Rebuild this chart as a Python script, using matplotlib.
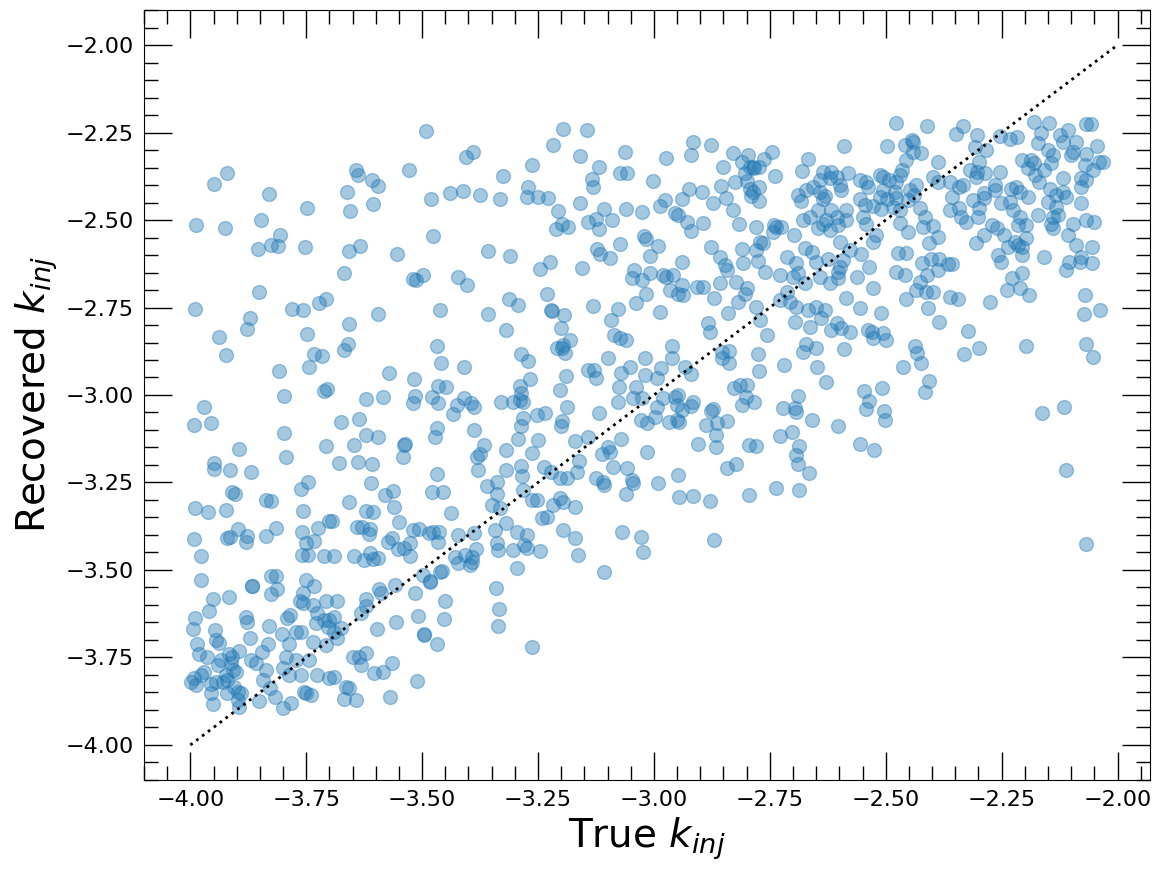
import numpy as np
import matplotlib
matplotlib.use("Agg")
import matplotlib.pyplot as plt
from matplotlib.ticker import MultipleLocator

# (true k_inj, recovered k_inj) pairs
upper_left = [
    (-3.920, -2.366), (-3.948, -2.397), (-3.830, -2.426), (-3.748, -2.466), (-3.987, -2.514),
    (-3.925, -2.523), (-3.847, -2.500), (-3.806, -2.543), (-3.825, -2.571), (-3.810, -2.574),
    (-3.853, -2.583), (-3.752, -2.577), (-3.642, -2.357), (-3.638, -2.371), (-3.608, -2.386),
    (-3.595, -2.403), (-3.662, -2.420), (-3.655, -2.474), (-3.606, -2.454), (-3.634, -2.574),
    (-3.657, -2.589), (-3.554, -2.597), (-3.668, -2.651), (-3.851, -2.706), (-3.989, -2.754),
    (-3.871, -2.780), (-3.877, -2.811), (-3.780, -2.754), (-3.756, -2.757), (-3.722, -2.737),
    (-3.707, -2.726), (-3.595, -2.769), (-3.657, -2.797), (-3.938, -2.834), (-3.748, -2.826),
]

upper_mid = [
    (-3.491, -2.246), (-3.405, -2.320), (-3.390, -2.306), (-3.528, -2.357), (-3.481, -2.440),
    (-3.440, -2.423), (-3.412, -2.417), (-3.375, -2.429), (-3.325, -2.374), (-3.332, -2.440),
    (-3.263, -2.343), (-3.272, -2.406), (-3.274, -2.434), (-3.250, -2.434), (-3.228, -2.437),
    (-3.218, -2.286), (-3.196, -2.240), (-3.144, -2.243), (-3.160, -2.317), (-3.063, -2.306),
    (-3.119, -2.349), (-3.134, -2.383), (-3.132, -2.406), (-3.073, -2.366), (-3.058, -2.366),
    (-3.002, -2.389), (-3.207, -2.474), (-3.160, -2.451), (-3.198, -2.511), (-3.185, -2.520),
    (-3.211, -2.526), (-3.142, -2.506), (-3.125, -2.497), (-3.108, -2.469), (-3.091, -2.500),
    (-3.119, -2.526), (-3.060, -2.469), (-3.026, -2.477), (-3.022, -2.546), (-3.017, -2.554),
    (-3.009, -2.603), (-3.476, -2.546), (-3.358, -2.589), (-3.310, -2.603), (-3.224, -2.620),
    (-3.246, -2.640), (-3.155, -2.637), (-3.123, -2.583), (-3.116, -2.597), (-3.095, -2.609),
    (-3.073, -2.569), (-3.043, -2.643), (-3.047, -2.666), (-3.026, -2.671), (-3.009, -2.651),
    (-3.017, -2.711), (-3.039, -2.737), (-3.519, -2.669), (-3.513, -2.671), (-3.498, -2.657),
    (-3.422, -2.663), (-3.403, -2.686), (-3.231, -2.711), (-3.313, -2.726), (-3.293, -2.743),
    (-3.222, -2.757), (-3.220, -2.759), (-3.194, -2.771), (-3.201, -2.809), (-3.132, -2.746),
    (-3.078, -2.754), (-3.093, -2.786), (-3.461, -2.757), (-3.358, -2.769), (-3.319, -2.814),
    (-3.086, -2.829), (-3.060, -2.843),
]

upper_right = [
    (-2.477, -2.222), (-2.915, -2.278), (-2.877, -2.286), (-2.920, -2.315), (-2.973, -2.324),
    (-2.590, -2.289), (-2.497, -2.288), (-2.829, -2.309), (-2.796, -2.315), (-2.745, -2.305),
    (-2.762, -2.326), (-2.811, -2.333), (-2.793, -2.348), (-2.786, -2.349), (-2.784, -2.352),
    (-2.774, -2.348), (-2.852, -2.348), (-2.804, -2.367), (-2.739, -2.374), (-2.826, -2.390),
    (-2.800, -2.388), (-2.856, -2.403), (-2.793, -2.411), (-2.786, -2.419), (-2.774, -2.405),
    (-2.790, -2.431), (-2.773, -2.445), (-2.924, -2.411), (-2.896, -2.420), (-2.940, -2.440),
    (-2.976, -2.443), (-2.987, -2.459), (-2.872, -2.452), (-2.845, -2.438), (-2.829, -2.471),
    (-2.955, -2.481), (-2.948, -2.486), (-2.928, -2.506), (-2.894, -2.508), (-2.919, -2.532),
    (-2.816, -2.512), (-2.779, -2.521), (-2.741, -2.514), (-2.737, -2.521), (-2.725, -2.521),
    (-2.743, -2.533), (-2.698, -2.543), (-2.667, -2.326), (-2.680, -2.360),
    (-2.635, -2.362), (-2.617, -2.362), (-2.606, -2.376), (-2.581, -2.367), (-2.621, -2.381),
    (-2.642, -2.386), (-2.599, -2.400), (-2.556, -2.386), (-2.542, -2.390), (-2.538, -2.405),
    (-2.513, -2.371), (-2.506, -2.376), (-2.493, -2.386), (-2.477, -2.390), (-2.506, -2.414),
    (-2.481, -2.419), (-2.671, -2.414), (-2.689, -2.429), (-2.657, -2.407), (-2.642, -2.419),
    (-2.632, -2.431), (-2.596, -2.414), (-2.635, -2.441), (-2.682, -2.445), (-2.556, -2.441),
    (-2.545, -2.457), (-2.513, -2.435), (-2.497, -2.441), (-2.477, -2.438), (-2.484, -2.462),
    (-2.527, -2.460), (-2.510, -2.469), (-2.679, -2.500), (-2.664, -2.490), (-2.646, -2.471),
    (-2.635, -2.510), (-2.628, -2.500), (-2.617, -2.471), (-2.606, -2.490), (-2.585, -2.471),
    (-2.585, -2.500), (-2.646, -2.524), (-2.621, -2.529), (-2.603, -2.514), (-2.549, -2.490),
    (-2.542, -2.510), (-2.520, -2.543), (-2.527, -2.562), (-2.599, -2.562), (-2.765, -2.567),
    (-2.772, -2.562), (-2.876, -2.576), (-2.811, -2.583), (-2.858, -2.605), (-2.847, -2.629),
    (-2.843, -2.643), (-2.808, -2.624), (-2.779, -2.586), (-2.775, -2.616), (-2.761, -2.648),
    (-2.714, -2.605), (-2.693, -2.624), (-2.675, -2.581), (-2.660, -2.590), (-2.650, -2.619),
    (-2.624, -2.610), (-2.592, -2.614), (-2.599, -2.633), (-2.603, -2.648), (-2.578, -2.586),
    (-2.553, -2.597), (-2.535, -2.633), (-2.563, -2.662), (-2.527, -2.695), (-2.477, -2.648),
    (-2.473, -2.595), (-2.991, -2.574), (-2.940, -2.619), (-2.980, -2.657), (-2.973, -2.662),
    (-2.959, -2.657), (-2.966, -2.700), (-2.948, -2.710), (-2.937, -2.714), (-2.940, -2.686),
    (-2.908, -2.690), (-2.894, -2.690), (-2.858, -2.681), (-2.870, -2.724), (-2.822, -2.676),
    (-2.800, -2.695), (-2.804, -2.711), (-2.818, -2.733), (-2.779, -2.748), (-2.772, -2.786),
    (-2.840, -2.767), (-2.883, -2.795), (-2.879, -2.819), (-2.987, -2.762), (-2.729, -2.657),
    (-2.700, -2.662), (-2.689, -2.652), (-2.675, -2.681), (-2.642, -2.662), (-2.621, -2.681),
    (-2.603, -2.667), (-2.714, -2.705), (-2.729, -2.729), (-2.707, -2.733), (-2.693, -2.748),
    (-2.668, -2.757), (-2.650, -2.748), (-2.639, -2.781), (-2.632, -2.757), (-2.585, -2.724),
    (-2.556, -2.752), (-2.510, -2.767), (-2.696, -2.791), (-2.664, -2.805), (-2.617, -2.814),
    (-2.606, -2.795), (-2.596, -2.809), (-2.578, -2.819), (-2.538, -2.814), (-2.529, -2.819),
    (-2.506, -2.824), (-2.757, -2.829),
]

upper_far_right = [
    (-2.412, -2.231), (-2.348, -2.254), (-2.334, -2.231), (-2.303, -2.257), (-2.254, -2.260),
    (-2.233, -2.269), (-2.217, -2.262), (-2.180, -2.219), (-2.148, -2.224), (-2.165, -2.252),
    (-2.172, -2.281), (-2.125, -2.257), (-2.107, -2.243), (-2.118, -2.276), (-2.089, -2.276),
    (-2.068, -2.226), (-2.057, -2.226), (-2.150, -2.300), (-2.140, -2.314), (-2.100, -2.314),
    (-2.068, -2.310), (-2.045, -2.289), (-2.039, -2.333), (-2.032, -2.333), (-2.053, -2.357),
    (-2.071, -2.343), (-2.068, -2.386), (-2.079, -2.405), (-2.079, -2.452), (-2.068, -2.500),
    (-2.050, -2.505), (-2.097, -2.510), (-2.107, -2.543), (-2.089, -2.571), (-2.055, -2.578),
    (-2.079, -2.605), (-2.082, -2.619), (-2.055, -2.622), (-2.104, -2.619), (-2.111, -2.643),
    (-2.071, -2.714), (-2.073, -2.769), (-2.037, -2.757), (-2.159, -2.605), (-2.205, -2.652),
    (-2.228, -2.667), (-2.191, -2.714), (-2.211, -2.695), (-2.239, -2.700), (-2.274, -2.735),
    (-2.322, -2.816), (-2.385, -2.791), (-2.409, -2.752), (-2.362, -2.719), (-2.344, -2.727),
    (-2.457, -2.727), (-2.434, -2.700), (-2.414, -2.705), (-2.398, -2.705), (-2.425, -2.676),
    (-2.412, -2.657), (-2.459, -2.657), (-2.388, -2.643), (-2.366, -2.626), (-2.358, -2.626),
    (-2.421, -2.622), (-2.402, -2.610), (-2.384, -2.610), (-2.457, -2.595), (-2.407, -2.565),
    (-2.387, -2.548), (-2.451, -2.533), (-2.420, -2.519), (-2.398, -2.517), (-2.470, -2.509),
    (-2.416, -2.490), (-2.427, -2.467), (-2.470, -2.471), (-2.438, -2.429), (-2.448, -2.414),
    (-2.387, -2.390), (-2.398, -2.376), (-2.388, -2.333), (-2.456, -2.329), (-2.441, -2.305),
    (-2.423, -2.309), (-2.441, -2.276), (-2.459, -2.286), (-2.470, -2.371), (-2.308, -2.290),
    (-2.283, -2.300), (-2.298, -2.333), (-2.319, -2.357), (-2.303, -2.362), (-2.285, -2.367),
    (-2.254, -2.362), (-2.305, -2.376), (-2.362, -2.390), (-2.334, -2.400), (-2.341, -2.407),
    (-2.356, -2.433), (-2.312, -2.443), (-2.289, -2.424), (-2.287, -2.438), (-2.264, -2.414),
    (-2.251, -2.452), (-2.265, -2.400), (-2.229, -2.410), (-2.218, -2.405), (-2.211, -2.419),
    (-2.193, -2.433), (-2.233, -2.448), (-2.226, -2.471), (-2.211, -2.490), (-2.197, -2.514),
    (-2.215, -2.514), (-2.172, -2.486), (-2.362, -2.471), (-2.341, -2.467), (-2.337, -2.490),
    (-2.326, -2.505), (-2.298, -2.467), (-2.302, -2.490), (-2.270, -2.514), (-2.260, -2.524),
    (-2.289, -2.543), (-2.305, -2.567), (-2.244, -2.543), (-2.222, -2.562), (-2.215, -2.571),
    (-2.237, -2.576), (-2.205, -2.576), (-2.205, -2.600), (-2.258, -2.600), (-2.251, -2.619),
    (-2.197, -2.552), (-2.205, -2.329), (-2.187, -2.329), (-2.180, -2.338), (-2.193, -2.352),
    (-2.178, -2.371), (-2.170, -2.390), (-2.159, -2.357), (-2.143, -2.338), (-2.146, -2.410),
    (-2.150, -2.448), (-2.132, -2.429), (-2.118, -2.419), (-2.111, -2.433), (-2.132, -2.462),
    (-2.140, -2.490), (-2.143, -2.510), (-2.140, -2.524), (-2.129, -2.486), (-2.118, -2.381),
    (-2.079, -2.381), (-2.097, -2.305), (-2.444, -2.271), (-2.465, -2.357), (-2.434, -2.400),
    (-2.451, -2.443),
]

mid_left = [
    (-3.922, -2.887), (-3.808, -2.931), (-3.745, -2.921), (-3.733, -2.883), (-3.717, -2.889),
    (-3.668, -2.871), (-3.660, -2.855), (-3.571, -2.938), (-3.799, -3.004), (-3.711, -2.989),
    (-3.705, -2.984), (-3.620, -3.012), (-3.584, -3.006), (-3.970, -3.035), (-3.993, -3.086),
    (-3.956, -3.080), (-3.676, -3.078), (-3.637, -3.069), (-3.799, -3.109), (-3.621, -3.114),
    (-3.596, -3.120), (-3.707, -3.146), (-3.647, -3.143), (-3.896, -3.155), (-3.794, -3.178),
    (-3.680, -3.194), (-3.639, -3.191), (-3.608, -3.198), (-3.539, -3.143), (-3.537, -3.141),
    (-3.541, -3.176), (-3.950, -3.193), (-3.948, -3.212), (-3.915, -3.214), (-3.870, -3.220),
    (-3.746, -3.249), (-3.762, -3.269), (-3.610, -3.251), (-3.910, -3.278), (-3.904, -3.282),
    (-3.836, -3.299), (-3.826, -3.303), (-3.657, -3.306), (-3.579, -3.287), (-3.563, -3.275),
    (-3.561, -3.321), (-3.989, -3.323), (-3.961, -3.334), (-3.922, -3.329), (-3.756, -3.331),
    (-3.620, -3.331), (-3.605, -3.335), (-3.700, -3.360), (-3.695, -3.360), (-3.550, -3.362),
    (-3.898, -3.382), (-3.816, -3.381), (-3.837, -3.403), (-3.993, -3.411), (-3.921, -3.409),
    (-3.914, -3.407), (-3.877, -3.403), (-3.879, -3.420), (-3.760, -3.392), (-3.724, -3.379),
    (-3.751, -3.424), (-3.734, -3.417), (-3.641, -3.378), (-3.629, -3.377), (-3.613, -3.383),
    (-3.614, -3.396), (-3.573, -3.419), (-3.566, -3.410), (-3.552, -3.441), (-3.978, -3.460),
    (-3.760, -3.457), (-3.747, -3.457), (-3.711, -3.459), (-3.691, -3.459), (-3.647, -3.459),
    (-3.612, -3.451), (-3.596, -3.465),
]

mid_center = [
    (-3.467, -2.860), (-3.459, -2.909), (-3.410, -2.919), (-3.517, -2.955), (-3.465, -2.974),
    (-3.448, -2.976), (-3.478, -3.007), (-3.515, -3.003), (-3.519, -3.024), (-3.465, -3.024),
    (-3.410, -3.009), (-3.395, -3.024), (-3.389, -3.033), (-3.424, -3.029), (-3.433, -3.054),
    (-3.286, -2.883), (-3.272, -2.903), (-3.267, -2.955), (-3.288, -2.973), (-3.286, -2.995),
    (-3.289, -3.014), (-3.282, -3.019), (-3.303, -3.021), (-3.330, -3.019), (-3.210, -2.867),
    (-3.196, -2.857), (-3.181, -2.843), (-3.192, -2.881), (-3.199, -2.867), (-3.190, -2.945),
    (-3.202, -2.986), (-3.187, -3.035), (-3.142, -2.929), (-3.129, -2.929), (-3.125, -2.951),
    (-3.099, -2.895), (-3.073, -2.838), (-3.052, -2.919), (-3.071, -2.938), (-3.075, -2.976),
    (-3.039, -2.976), (-3.019, -2.895), (-3.019, -2.943), (-3.045, -3.009), (-3.025, -3.009),
    (-3.077, -3.021), (-3.118, -3.052), (-3.027, -3.071), (-3.016, -3.081), (-3.199, -3.074),
    (-3.201, -3.090), (-3.253, -3.057), (-3.235, -3.052), (-3.282, -3.067), (-3.286, -3.090),
    (-3.388, -3.100), (-3.467, -3.095), (-3.472, -3.121), (-3.366, -3.143), (-3.375, -3.169),
    (-3.381, -3.176), (-3.379, -3.214), (-3.320, -3.157), (-3.293, -3.127), (-3.251, -3.129),
    (-3.264, -3.167), (-3.287, -3.203), (-3.318, -3.214), (-3.284, -3.231), (-3.468, -3.227),
    (-3.478, -3.278), (-3.456, -3.278), (-3.339, -3.248), (-3.359, -3.260), (-3.338, -3.284),
    (-3.350, -3.314), (-3.332, -3.322), (-3.282, -3.271), (-3.264, -3.300), (-3.253, -3.300),
    (-3.237, -3.205), (-3.221, -3.219), (-3.203, -3.238), (-3.188, -3.238), (-3.167, -3.219),
    (-3.161, -3.189), (-3.171, -3.131), (-3.142, -3.119), (-3.113, -3.169), (-3.099, -3.148),
    (-3.095, -3.162), (-3.072, -3.126), (-3.088, -3.205), (-3.125, -3.238), (-3.110, -3.248),
    (-3.108, -3.257), (-3.059, -3.209), (-3.048, -3.243), (-3.045, -3.252), (-3.060, -3.284),
    (-3.016, -3.162), (-3.203, -3.295), (-3.196, -3.305), (-3.171, -3.319), (-3.217, -3.314),
    (-3.231, -3.348), (-3.242, -3.352), (-3.438, -3.338), (-3.519, -3.386), (-3.506, -3.383),
    (-3.486, -3.395), (-3.476, -3.391), (-3.463, -3.391), (-3.465, -3.419), (-3.422, -3.400),
    (-3.389, -3.395), (-3.384, -3.440), (-3.393, -3.462), (-3.407, -3.457), (-3.429, -3.462),
    (-3.526, -3.424), (-3.540, -3.438), (-3.526, -3.459), (-3.343, -3.386), (-3.319, -3.367),
    (-3.296, -3.391), (-3.274, -3.400), (-3.339, -3.424), (-3.336, -3.443), (-3.303, -3.443),
    (-3.280, -3.429), (-3.246, -3.446), (-3.196, -3.386), (-3.171, -3.410), (-3.163, -3.457),
    (-3.068, -3.392), (-3.027, -3.405), (-3.023, -3.448), (-3.274, -3.438),
]

mid_right = [
    (-2.962, -2.860), (-2.962, -2.895), (-2.994, -2.952), (-2.984, -2.924), (-2.933, -2.919),
    (-2.919, -2.941), (-2.854, -2.876), (-2.838, -2.874), (-2.838, -2.909), (-2.854, -2.895),
    (-2.775, -2.883), (-2.773, -2.931), (-2.720, -2.914), (-2.673, -2.855), (-2.679, -2.876),
    (-2.651, -2.867), (-2.648, -2.921), (-2.629, -2.962), (-2.590, -2.869), (-2.527, -2.836),
    (-2.499, -2.843), (-2.827, -2.979), (-2.815, -2.971), (-2.800, -2.971), (-2.802, -3.005),
    (-2.784, -3.019), (-2.809, -3.029), (-2.980, -3.009), (-2.994, -3.033), (-2.998, -3.062),
    (-2.955, -3.005), (-2.948, -3.000), (-2.951, -3.029), (-2.940, -3.043), (-2.915, -3.019),
    (-2.920, -3.031), (-2.968, -3.078), (-2.951, -3.071), (-2.946, -3.076), (-2.877, -3.046),
    (-2.872, -3.040), (-2.888, -3.086), (-2.865, -3.081), (-2.842, -3.074), (-2.867, -3.114),
    (-2.867, -3.150), (-2.904, -3.140), (-2.795, -3.143), (-2.779, -3.146), (-2.842, -3.208),
    (-2.822, -3.197), (-2.991, -3.252), (-2.948, -3.229), (-2.946, -3.292), (-2.915, -3.289),
    (-2.879, -3.303), (-2.795, -3.286), (-2.737, -3.267), (-2.687, -3.271), (-2.870, -3.414),
    (-2.721, -3.038), (-2.696, -3.036), (-2.694, -3.048), (-2.689, -3.003), (-2.659, -3.071),
    (-2.727, -3.117), (-2.703, -3.107), (-2.686, -3.145), (-2.693, -3.171), (-2.689, -3.198),
    (-2.666, -3.222), (-2.603, -3.089), (-2.547, -2.989), (-2.537, -3.016), (-2.542, -3.040),
    (-2.508, -2.981), (-2.504, -3.046), (-2.502, -3.071), (-2.556, -3.141), (-2.525, -3.157),
    (-2.463, -2.919),
]

mid_far_right = [
    (-2.436, -2.860), (-2.433, -2.881), (-2.423, -2.909), (-2.407, -2.960), (-2.416, -2.992),
    (-2.331, -2.883), (-2.298, -2.867), (-2.198, -2.860), (-2.069, -2.854), (-2.053, -2.892),
    (-2.162, -3.052), (-2.116, -3.035), (-2.112, -3.214), (-2.069, -3.427),
]

low_left = [
    (-3.977, -3.529), (-3.826, -3.516), (-3.815, -3.516), (-3.868, -3.545), (-3.866, -3.547),
    (-3.814, -3.555), (-3.826, -3.569), (-3.952, -3.583), (-3.917, -3.578), (-3.751, -3.529),
    (-3.734, -3.546), (-3.756, -3.567), (-3.763, -3.588), (-3.758, -3.593), (-3.736, -3.600),
    (-3.959, -3.616), (-3.990, -3.638), (-3.995, -3.670), (-3.946, -3.671), (-3.945, -3.700),
    (-3.938, -3.709), (-3.986, -3.711), (-3.982, -3.741), (-3.964, -3.748), (-3.934, -3.757),
    (-3.941, -3.771), (-3.916, -3.740), (-3.910, -3.748), (-3.894, -3.731), (-3.912, -3.767),
    (-3.909, -3.786), (-3.923, -3.800), (-3.945, -3.819), (-3.955, -3.826), (-3.930, -3.819),
    (-3.970, -3.791), (-3.977, -3.800), (-3.991, -3.810), (-3.998, -3.819), (-3.988, -3.829),
    (-3.955, -3.851), (-3.952, -3.883), (-3.921, -3.851), (-3.905, -3.833), (-3.898, -3.848),
    (-3.891, -3.852), (-3.898, -3.871), (-3.894, -3.891), (-3.880, -3.633), (-3.877, -3.648),
    (-3.871, -3.695), (-3.902, -3.791), (-3.920, -3.814), (-3.869, -3.757), (-3.858, -3.767),
    (-3.846, -3.733), (-3.832, -3.711), (-3.837, -3.786), (-3.844, -3.814), (-3.828, -3.838),
    (-3.817, -3.862), (-3.851, -3.873), (-3.830, -3.660), (-3.802, -3.683), (-3.787, -3.711),
    (-3.792, -3.638), (-3.786, -3.629), (-3.772, -3.676), (-3.761, -3.676), (-3.736, -3.705),
    (-3.794, -3.748), (-3.801, -3.781), (-3.787, -3.800), (-3.772, -3.757), (-3.761, -3.800),
    (-3.744, -3.757), (-3.726, -3.800), (-3.783, -3.881), (-3.801, -3.895), (-3.754, -3.848),
    (-3.751, -3.851), (-3.740, -3.857), (-3.729, -3.652), (-3.727, -3.624), (-3.708, -3.590),
    (-3.684, -3.590), (-3.711, -3.643), (-3.700, -3.643), (-3.690, -3.633), (-3.704, -3.662),
    (-3.676, -3.667), (-3.683, -3.695), (-3.708, -3.714), (-3.691, -3.676), (-3.700, -3.810),
    (-3.690, -3.805), (-3.665, -3.833), (-3.657, -3.838), (-3.668, -3.869), (-3.643, -3.871),
    (-3.650, -3.748), (-3.636, -3.748), (-3.622, -3.738), (-3.632, -3.771), (-3.603, -3.795),
    (-3.585, -3.791), (-3.564, -3.767), (-3.557, -3.648), (-3.598, -3.670), (-3.622, -3.584),
    (-3.620, -3.603), (-3.632, -3.624), (-3.569, -3.864), (-3.592, -3.555), (-3.588, -3.565),
    (-3.559, -3.543), (-3.625, -3.471), (-3.605, -3.469),
]

low_center = [
    (-3.515, -3.567), (-3.499, -3.514), (-3.483, -3.531), (-3.483, -3.535), (-3.461, -3.505),
    (-3.458, -3.502), (-3.422, -3.479), (-3.397, -3.486), (-3.393, -3.476), (-3.296, -3.495),
    (-3.108, -3.507), (-3.450, -3.589), (-3.508, -3.631), (-3.452, -3.641), (-3.497, -3.683),
    (-3.495, -3.685), (-3.467, -3.711), (-3.341, -3.552), (-3.334, -3.612), (-3.336, -3.660),
    (-3.262, -3.721), (-3.510, -3.817),
]

# 1:1 reference line
line_k = [-4.0, -2.0]

points = np.array(upper_left + upper_mid + upper_right + upper_far_right + mid_left
                  + mid_center + mid_right + mid_far_right + low_left + low_center)
true_k = points[:, 0]
rec_k = points[:, 1]

fig = plt.figure(figsize=(11.61, 8.71), dpi=100)
ax = fig.add_axes([0.124, 0.1045, 0.8665, 0.884])

ax.scatter(true_k, rec_k, s=100, alpha=0.4, color='C0')
ax.plot(line_k, line_k, 'k:', lw=2)

ax.set_xlim(-4.1, -1.93)
ax.set_ylim(-4.1, -1.9)
ax.xaxis.set_major_locator(MultipleLocator(0.25))
ax.xaxis.set_minor_locator(MultipleLocator(0.05))
ax.yaxis.set_major_locator(MultipleLocator(0.25))
ax.yaxis.set_minor_locator(MultipleLocator(0.05))
ax.tick_params(which='both', direction='in', top=True, right=True, width=1)
ax.tick_params(which='major', length=20, labelsize=16, pad=7)
ax.tick_params(which='minor', length=10)

ax.set_xlabel('True $k_{inj}$', fontsize=28)
ax.set_ylabel('Recovered $k_{inj}$', fontsize=28)

fig.savefig('out.png', dpi=100)
